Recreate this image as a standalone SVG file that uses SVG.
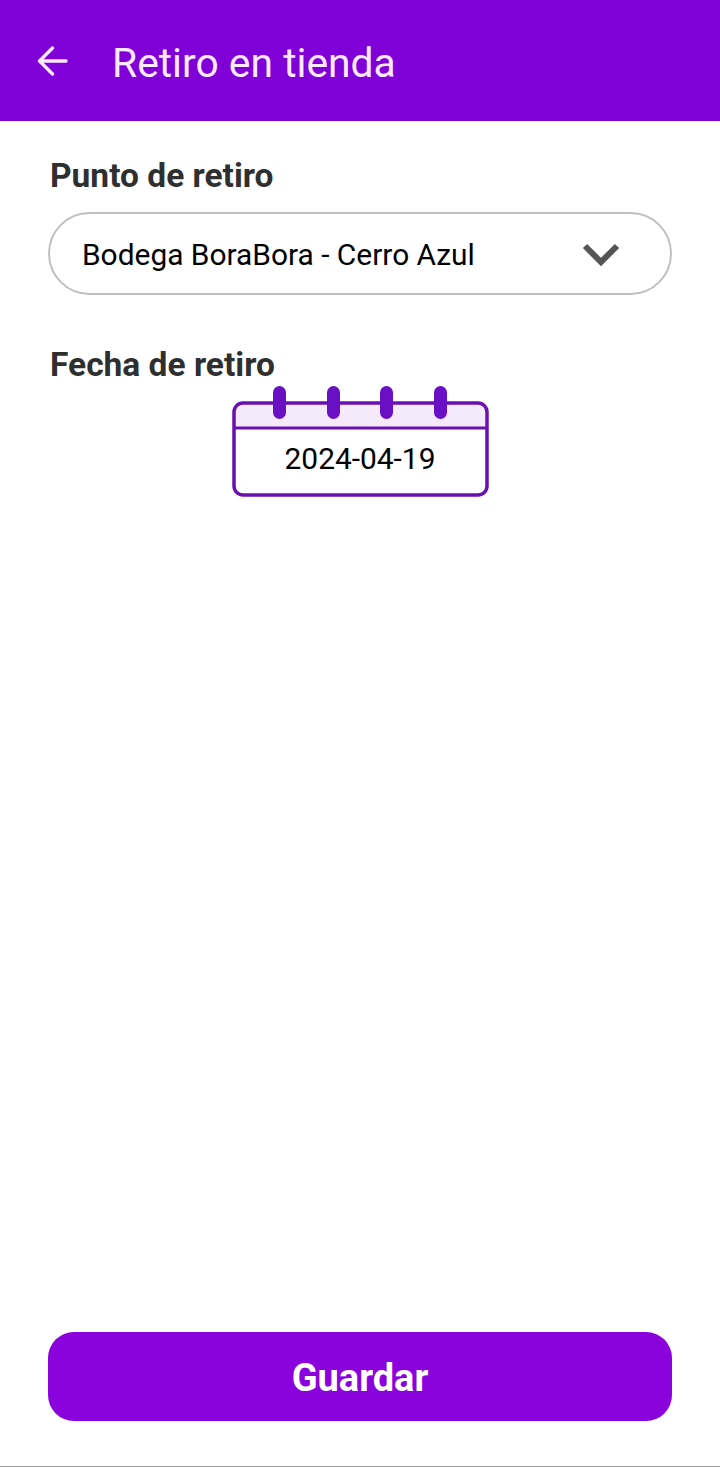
<svg xmlns="http://www.w3.org/2000/svg" width="720" height="1467" viewBox="0 0 720 1467">
<style>
text{font-family:Roboto,"Liberation Sans",sans-serif}
.label{font-size:33.500px;font-weight:700;fill:#2f2f2f}
.val{font-size:29.900px;fill:#000}
.ring{fill:#6a10c4;}
</style>
<rect width="720" height="1467" fill="#fff"/>
<g id="appbar">
<rect width="720" height="121" fill="#8000d8"/>
<path d="M66 61H40M52.500 48L39.500 61L52.500 74" fill="none" stroke="#fbe9fd" stroke-width="3.400" stroke-linecap="round" stroke-linejoin="round"/>
<text x="112" y="77" font-size="40.800" fill="#fbe9fd">Retiro en tienda</text>
</g>
<g id="punto">
<text class="label" x="50" y="187">Punto de retiro</text>
<rect x="49" y="213" width="622" height="81" rx="40.500" fill="#fff" stroke="#c0c0c0" stroke-width="2"/>
<text class="val" x="82" y="265">Bodega BoraBora - Cerro Azul</text>
<path d="M585 246L601 262L617 246" fill="none" stroke="#555" stroke-width="6"/>
</g>
<g id="fecha">
<text class="label" x="50" y="376">Fecha de retiro</text>
<path d="M234 428V411Q234 403 242 403H478Q486 403 486 411V428Z" fill="#f4eafc"/>
<rect x="234" y="403" width="253" height="92" rx="9" fill="none" stroke="#6a10ae" stroke-width="3.500"/>
<path d="M234 428H487" stroke="#6a10ae" stroke-width="3"/>
<rect class="ring" x="273" y="386" width="13" height="33" rx="6.500"/>
<rect class="ring" x="327" y="386" width="13" height="33" rx="6.500"/>
<rect class="ring" x="380" y="386" width="13" height="33" rx="6.500"/>
<rect class="ring" x="434" y="386" width="13" height="33" rx="6.500"/>
<text class="val" x="360" y="469" text-anchor="middle">2024-04-19</text>
</g>
<g id="guardar">
<rect x="48" y="1332" width="624" height="89" rx="26" fill="#8b03dc"/>
<text x="360" y="1391" text-anchor="middle" font-size="38" font-weight="700" fill="#fff">Guardar</text>
</g>
<rect id="bottom-line" y="1466" width="720" height="1" fill="#999"/>
<g id="connectors"/>
</svg>
